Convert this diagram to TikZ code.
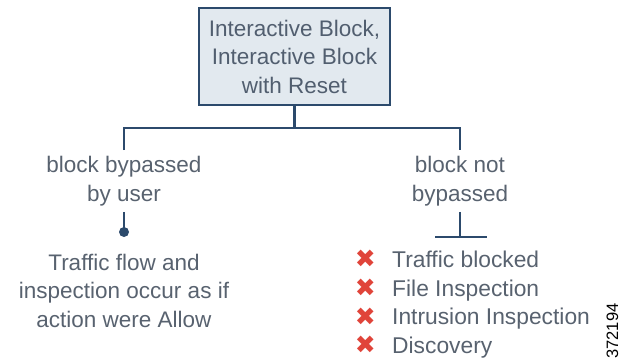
\documentclass[tikz,border=0pt]{standalone}
\usepackage{fontspec}
\setmainfont{Liberation Sans}
\newfontfamily\symfont{DejaVu Sans}
\usetikzlibrary{positioning}
\definecolor{boxfill}{HTML}{E2E9EF}
\definecolor{navy}{HTML}{2C4A6C}
\definecolor{slate}{HTML}{58626F}
\definecolor{xred}{HTML}{E0443A}
\tikzset{
  link/.style={draw=navy, line width=2.6pt},
  txt/.style={text=slate, font=\fontsize{22.5}{28.5}\selectfont, align=center, inner sep=6pt},
  item/.style={text=slate, font=\fontsize{22.8}{28.5}\selectfont, anchor=base west, inner sep=0pt},
  xmark/.style={text=xred, font=\symfont\fontsize{25}{25}\selectfont, inner sep=0pt},
}

\begin{document}
\begin{tikzpicture}[x=1pt,y=-1pt]
  \useasboundingbox (0,0) rectangle (622,364);

  \newcommand\Lx{124}
  \newcommand\Rx{460}

  \node[txt, draw=navy, line width=2.4pt, fill=boxfill, text=slate!85!navy,
        minimum width=191pt, minimum height=97pt] (box) at (294.5,56.5)
        {Interactive Block,\\Interactive Block\\with Reset};

  \node[txt] (byp) at (\Lx,181) {block bypassed\\by user};
  \node[txt] (nbyp) at (\Rx,181) {block not\\bypassed};
  \coordinate (split) at (294.5,128);

  \draw[link] (box.south) -- (split);
  \draw[link] (byp.north) |- (split) -| (nbyp.north);

  %% left branch
  \node[circle, fill=navy, inner sep=0pt, minimum size=10pt] (dot) at (\Lx,232) {};
  \draw[link] (byp.south) -- (dot.center);
  \node[txt] (allow) at (\Lx,290.5) {Traffic flow and\\inspection occur as if\\action were Allow};

  %% right branch
  \coordinate (tee) at (\Rx,237);
  \draw[link] (nbyp.south) -- (tee);
  \draw[link] ([xshift=-25pt]tee) -- ([xshift=27pt]tee);

  \node[item] (blk) at (392,267) {Traffic blocked};
  \node[item] (file) at (392,296) {File Inspection};
  \node[item] (ips) at (392,324.5) {Intrusion Inspection};
  \node[item] (disc) at (392,353) {Discovery};
  \node[xmark, left=16pt of blk.base west, yshift=8pt] (x1) {✖};
  \node[xmark, left=16pt of file.base west, yshift=8pt] (x2) {✖};
  \node[xmark, left=16pt of ips.base west, yshift=8pt] (x3) {✖};
  \node[xmark, left=16pt of disc.base west, yshift=8pt] (x4) {✖};

  \node[rotate=90, inner sep=0pt, font=\fontsize{16.5}{16.5}\selectfont] (num) at (612.5,331) {372194};

\end{tikzpicture}
\end{document}
